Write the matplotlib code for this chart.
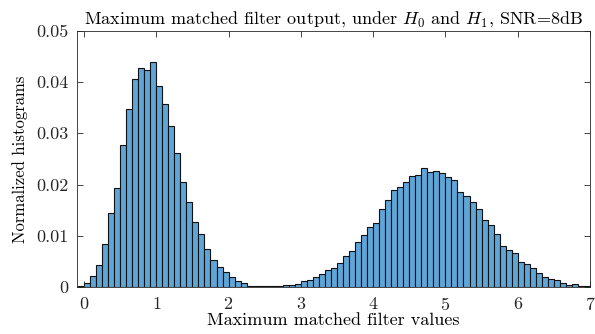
import numpy as np
import matplotlib
matplotlib.use("Agg")
import matplotlib.pyplot as plt
from matplotlib.ticker import FuncFormatter

# histogram data (bin width 1/12, first bin starts at -1/12)
bin_width = 1.0 / 12
first_edge = -1.0 / 12
heights = [
    0.0003, 0.0008, 0.0022, 0.0043, 0.0084, 0.0144, 0.0193, 0.0277, 0.0347, 0.0405,
    0.0427, 0.0423, 0.0440, 0.0392, 0.0358, 0.0315, 0.0262, 0.0205, 0.0166, 0.0127,
    0.0103, 0.0075, 0.0053, 0.0040, 0.0029, 0.0020, 0.0012, 0.0008, 0.0003, 0.0003,
    0.0002, 0.0002, 0.0002, 0.0002, 0.0004, 0.0004, 0.0007, 0.0012, 0.0014, 0.0019,
    0.0026, 0.0033, 0.0037, 0.0047, 0.0061, 0.0071, 0.0088, 0.0101, 0.0118, 0.0126,
    0.0152, 0.0171, 0.0189, 0.0195, 0.0205, 0.0217, 0.0218, 0.0232, 0.0225, 0.0227,
    0.0223, 0.0214, 0.0210, 0.0186, 0.0177, 0.0166, 0.0152, 0.0132, 0.0121, 0.0103,
    0.0080, 0.0072, 0.0067, 0.0050, 0.0045, 0.0037, 0.0027, 0.0019, 0.0017, 0.0014,
    0.0009, 0.0004, 0.0006, 0.0002, 0.0002,
]
xticks = [0, 1, 2, 3, 4, 5, 6, 7]
yticks = [0, 0.01, 0.02, 0.03, 0.04, 0.05]

plt.rcParams['font.family'] = 'serif'
plt.rcParams['font.serif'] = ['cmr10']
plt.rcParams['mathtext.fontset'] = 'cm'
plt.rcParams['axes.formatter.use_mathtext'] = True

fig = plt.figure(figsize=(5.95, 3.34), dpi=100)
ax = fig.add_axes([0.129, 0.140, 0.8626, 0.768])

left = first_edge + bin_width * np.arange(len(heights))
ax.bar(left, heights, width=bin_width, align='edge', color='#5fa6d8',
       edgecolor='#111111', linewidth=0.8)

ax.set_xlim(-0.1, 7)
ax.set_ylim(0, 0.05)
ax.set_xticks(xticks)
ax.set_yticks(yticks)
ax.yaxis.set_major_formatter(FuncFormatter(lambda v, p: '%g' % v))
ax.tick_params(direction='in', top=True, right=True, length=4, width=0.6,
               colors='#262626', labelsize=13)
ax.tick_params(axis='x', pad=6)
ax.tick_params(axis='y', pad=6)
for s in ax.spines.values():
    s.set_color('#262626')
    s.set_linewidth(0.6)

ax.set_title(r'Maximum matched filter output, under $H_0$ and $H_1$, SNR=8dB',
             fontsize=13, pad=5)
ax.set_xlabel('Maximum matched filter values', fontsize=13, labelpad=0)
ax.set_ylabel('Normalized histograms', fontsize=12, labelpad=6)

fig.savefig('out.png', dpi=100)
